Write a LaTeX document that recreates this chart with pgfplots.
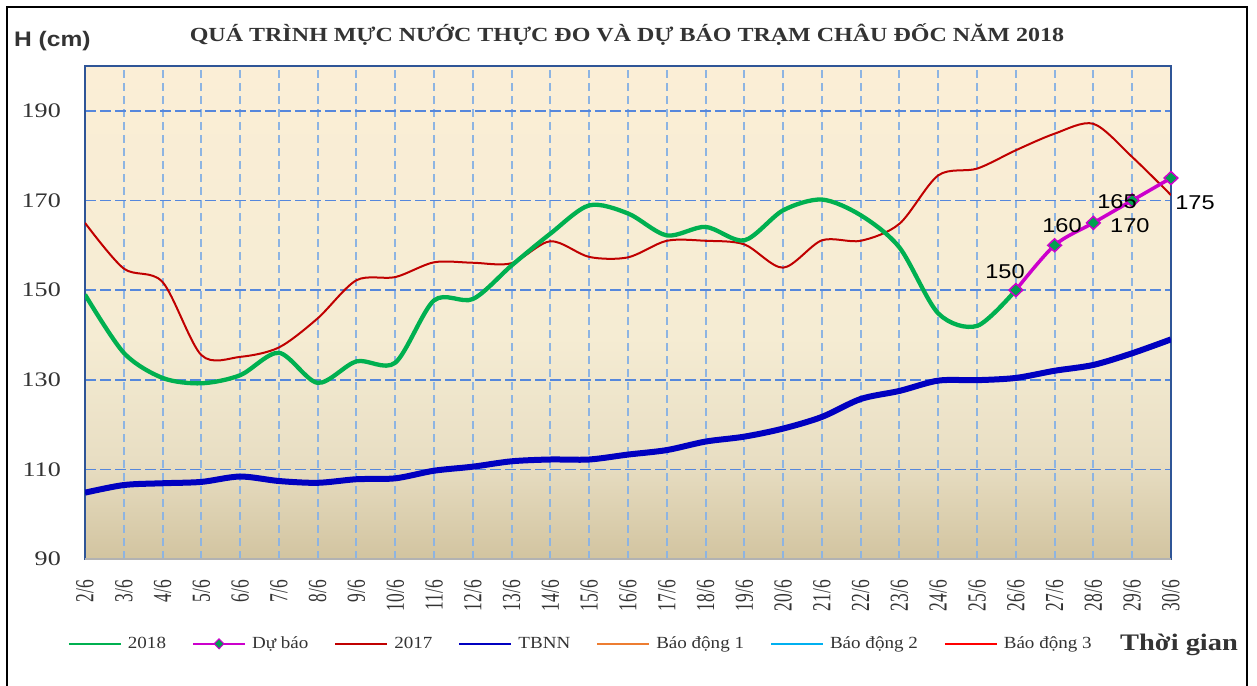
\documentclass[border=0pt]{standalone}
\usepackage{fontspec}
\usepackage{pgfplots}
\pgfplotsset{compat=1.18}
\setmainfont{Liberation Serif}
\newfontfamily\ytickfont{Liberation Serif}[FakeStretch=1.26]
\newfontfamily\xtickfont{Liberation Serif}[FakeStretch=0.67]
\newfontfamily\titlefont{Liberation Serif}[FakeStretch=1.2]
\newfontfamily\legfont{Liberation Serif}[FakeStretch=1.12]
\newfontfamily\labfont{Liberation Sans}[FakeStretch=1.18]
\newfontfamily\hfont{Liberation Sans}[FakeStretch=1.17]
\definecolor{c2018}{RGB}{0,176,80}
\definecolor{c2017}{RGB}{192,0,0}
\definecolor{cTB}{RGB}{0,0,192}
\definecolor{cDB}{RGB}{204,0,204}
\definecolor{cMk}{RGB}{0,160,80}
\definecolor{cBD1}{RGB}{237,125,49}
\definecolor{cBD2}{RGB}{0,176,240}
\definecolor{cBD3}{RGB}{255,0,0}
\definecolor{bgtop}{RGB}{251,238,214}
\definecolor{bgmid}{RGB}{245,236,211}
\definecolor{bgb2}{RGB}{232,222,195}
\definecolor{bgbot}{RGB}{210,196,160}
\definecolor{gridv}{RGB}{141,180,226}
\definecolor{gridh}{RGB}{85,135,220}
\definecolor{axblue}{RGB}{47,85,151}
\pgfdeclareverticalshading{bgshade}{100bp}{color(0bp)=(bgbot); color(25bp)=(bgbot); color(35bp)=(bgb2); color(47.5bp)=(bgmid); color(75bp)=(bgtop); color(100bp)=(bgtop)}
\begin{document}
\begin{tikzpicture}
\useasboundingbox (0bp,0bp) rectangle (1257bp,686bp);
\draw[line width=2bp] (7bp,-3bp) -- (7bp,679bp) -- (1247bp,679bp) -- (1247bp,-3bp);
\begin{axis}[
  at={(85bp,127bp)}, anchor=south west,
  scale only axis, width=1086bp, height=493bp,
  xmin=0, xmax=28, ymin=90, ymax=200,
  xtick={0,...,28},
  xticklabels={2/6,3/6,4/6,5/6,6/6,7/6,8/6,9/6,10/6,11/6,12/6,13/6,14/6,15/6,16/6,17/6,18/6,19/6,20/6,21/6,22/6,23/6,24/6,25/6,26/6,27/6,28/6,29/6,30/6},
  ytick={90,110,130,150,170,190},
  /pgf/number format/assume math mode=true,
  major tick length=0pt,
  grid=major,
  major x grid style={color=gridv, dash pattern=on 8bp off 5bp, line width=2bp},
  major y grid style={color=gridh, dash pattern=on 11bp off 4bp, line width=1.7bp},
  axis line style={draw=axblue, line width=1.5bp},
  axis background/.style={shade, shading=bgshade},
  x tick label style={rotate=90, anchor=east, inner sep=0pt, font=\xtickfont\fontsize{26bp}{26bp}\selectfont, color=black!80},
  xticklabel shift=21bp,
  y tick label style={anchor=east, inner sep=0pt, font=\ytickfont\fontsize{20.7bp}{21bp}\selectfont, color=black!80},
  yticklabel shift=24bp,
  clip mode=individual,
  legend columns=7,
  legend image code/.code={\draw[mark repeat=2,mark phase=2,#1] plot coordinates {(0bp,0bp) (26bp,0bp) (52bp,0bp)};},
  legend style={draw=none, fill=none, inner sep=0pt, outer sep=0pt,
    at={(-0.0157,-0.172)}, anchor=west,
    font=\legfont\fontsize{17bp}{17bp}\selectfont, text=black!80,
    nodes={inner xsep=3bp, inner ysep=1bp},
    /tikz/every even column/.append style={column sep=23bp},
    /tikz/every odd column/.append style={column sep=3bp}},
  after end axis/.code={\draw[color=black!30, line width=1.5bp] (rel axis cs:0,0) -- (rel axis cs:1,0);},
]
% 2017
\addplot[color=c2017, line width=2bp, smooth, tension=0.5, forget plot] coordinates {
(0,165)(1,154.8)(2,151.8)(3,135.5)(4,135.1)(5,137.2)(6,143.7)(7,152.2)(8,152.9)(9,156.2)(10,156.1)(11,156)(12,160.9)(13,157.4)(14,157.3)(15,161)(16,161)(17,160.2)(18,155)(19,161.1)(20,161)(21,164.8)(22,175.6)(23,177.1)(24,181.2)(25,184.9)(26,187.1)(27,179.7)(28,171.2)};
% TBNN
\addplot[color=cTB, line width=6bp, smooth, tension=0.5, forget plot] coordinates {
(0,104.8)(1,106.5)(2,106.9)(3,107.2)(4,108.4)(5,107.4)(6,107)(7,107.8)(8,108)(9,109.7)(10,110.6)(11,111.8)(12,112.2)(13,112.2)(14,113.3)(15,114.3)(16,116.2)(17,117.3)(18,119.1)(19,121.7)(20,125.7)(21,127.5)(22,129.8)(23,129.9)(24,130.4)(25,132)(26,133.3)(27,135.9)(28,139)};
% 2018
\addplot[color=c2018, line width=4.3bp, smooth, tension=0.5, forget plot] coordinates {
(0,149)(1,136)(2,130.4)(3,129.2)(4,131)(5,136)(6,129.3)(7,134.1)(8,133.8)(9,147.7)(10,148)(11,155.5)(12,162.6)(13,168.9)(14,167.1)(15,162.2)(16,164.1)(17,161.1)(18,167.8)(19,170.2)(20,166.7)(21,159.5)(22,144.8)(23,142)(24,150)};
% Du bao
\addplot[color=cDB, line width=3.5bp, smooth, tension=0.5, mark=diamond*, mark size=6.5bp,
  mark options={xscale=1.4, fill=cMk, draw=cDB, line width=1.5bp, solid}, forget plot] coordinates {
(24,150)(25,160)(26,165)(27,170)(28,175)};
\addlegendimage{color=c2018, line width=2bp}
\addlegendentry{2018}
\addlegendimage{color=cDB, line width=2bp, mark=diamond*, mark size=5bp, mark options={xscale=1.3, fill=cMk, draw=cDB, line width=1bp}}
\addlegendentry{Dự báo}
\addlegendimage{color=c2017, line width=2bp}
\addlegendentry{2017}
\addlegendimage{color=cTB, line width=2bp}
\addlegendentry{TBNN}
\addlegendimage{color=cBD1, line width=2bp}
\addlegendentry{Báo động 1}
\addlegendimage{color=cBD2, line width=2bp}
\addlegendentry{Báo động 2}
\addlegendimage{color=cBD3, line width=2bp}
\addlegendentry{Báo động 3}
\node[font=\labfont\fontsize{20bp}{20bp}\selectfont, inner sep=0pt] at (axis cs:23.72,154.04) {150};
\node[font=\labfont\fontsize{20bp}{20bp}\selectfont, inner sep=0pt] at (axis cs:25.19,164.3) {160};
\node[font=\labfont\fontsize{20bp}{20bp}\selectfont, inner sep=0pt] at (axis cs:26.61,169.7) {165};
\node[font=\labfont\fontsize{20bp}{20bp}\selectfont, inner sep=0pt] at (axis cs:26.94,164.3) {170};
\node[font=\labfont\fontsize{20bp}{20bp}\selectfont, inner sep=0pt] at (axis cs:28.62,169.6) {175};
\end{axis}
\node[anchor=base, inner sep=0pt, font=\titlefont\bfseries\fontsize{20bp}{20bp}\selectfont, text=black!80] at (627bp,644.3bp) {QUÁ TRÌNH MỰC NƯỚC THỰC ĐO VÀ DỰ BÁO TRẠM CHÂU ĐỐC NĂM 2018};
\node[anchor=base west, inner sep=0pt, font=\hfont\bfseries\fontsize{21bp}{21bp}\selectfont, text=black!80] at (14bp,639.3bp) {H (cm)};
\node[anchor=base west, inner sep=0pt, font=\titlefont\bfseries\fontsize{23.7bp}{24bp}\selectfont, text=black!80] at (1120bp,35.3bp) {Thời gian};
\end{tikzpicture}
\end{document}
